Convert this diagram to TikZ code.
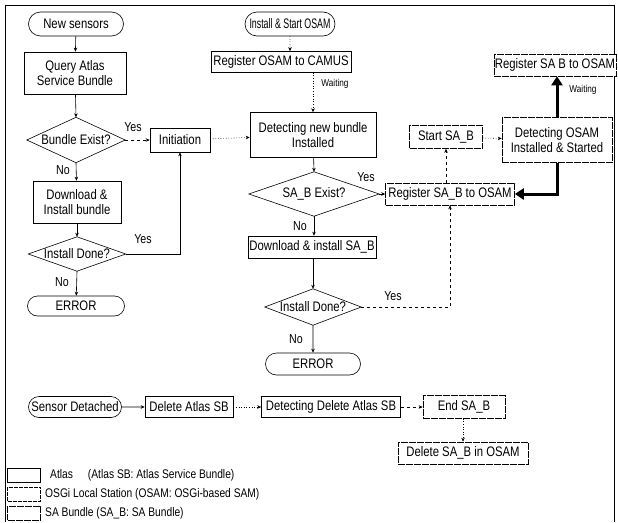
\documentclass[tikz,border=0pt]{standalone}
\usepackage{fontspec}
\setmainfont{Liberation Sans}[FakeStretch=0.82]
\newfontfamily\narrowfont{Liberation Sans}[FakeStretch=0.64]
\usetikzlibrary{shapes.geometric,shapes.misc,arrows.meta}
\tikzset{
  base/.style={draw=black, line width=0.6pt, fill=white, inner sep=1pt, align=center, font=\fontsize{13.8}{15.5}\selectfont},
  boxa/.style={base, rectangle},
  boxo/.style={base, rectangle},
  boxs/.style={base, rectangle, dash pattern=on 7pt off 1pt},
  stad/.style={base, rounded rectangle},
  diabox/.style={rectangle, inner sep=0pt, align=center, font=\fontsize{13.8}{15.5}\selectfont},
  diaedge/.style={draw=black, line width=0.6pt},
  lbl/.style={font=\fontsize{13}{15}\selectfont, inner sep=0pt},
  wlbl/.style={font=\fontsize{10}{11}\selectfont, inner sep=0pt},
  conn/.style={line width=0.6pt, -{Stealth[length=4pt,width=3.5pt]}},
  dotconn/.style={conn, dotted},
  dashconn/.style={conn, dashed},
  thickconn/.style={line width=3pt, -{Triangle[length=9pt,width=11pt]}},
  legbox/.style={draw=black, line width=0.5pt, minimum width=33pt, minimum height=14pt, inner sep=0pt},
  legtxt/.style={anchor=west, inner sep=0pt, font=\fontsize{12.5}{14}\selectfont}
}
\newcommand{\diamondpath}[1]{\draw[diaedge] (#1.north) -- (#1.east) -- (#1.south) -- (#1.west) -- cycle;}
\begin{document}
\begin{tikzpicture}[x=1pt,y=-1pt]
\useasboundingbox (0,0) rectangle (618,522);
\draw[line width=0.8pt] (5,522) -- (5,5) -- (614,5) -- (614,522);

% Atlas column
\node[stad, minimum width=97pt, minimum height=24pt] (ns) at (76,24) {New sensors};
\node[boxa, minimum width=102pt, minimum height=42pt] (qa) at (75,73) {Query Atlas\\Service Bundle};
\node[diabox, minimum width=98pt, minimum height=45pt] (be) at (76,140) {Bundle Exist?};
\diamondpath{be}
\node[boxa, minimum width=60pt, minimum height=24pt] (ini) at (180,140) {Initiation};
\node[boxa, minimum width=88pt, minimum height=42pt] (dl) at (77,202) {Download \&\\Install bundle};
\node[diabox, minimum width=97pt, minimum height=34pt] (id1) at (77,254) {Install Done?};
\diamondpath{id1}
\node[stad, minimum width=99pt, minimum height=20pt] (err1) at (76,306) {ERROR};
\node[lbl] (y1) at (133,127) {Yes};
\node[lbl] (n1) at (63,170) {No};
\node[lbl] (y2) at (143,239) {Yes};
\node[lbl] (n2) at (62,282) {No};

% OSGi column
\node[stad, minimum width=92pt, minimum height=24pt, font=\narrowfont\fontsize{13.8}{15}\selectfont] (iso) at (290,24) {Install \& Start OSAM};
\node[boxo, minimum width=140pt, minimum height=21pt] (ro) at (281,62) {Register OSAM to CAMUS};
\node[wlbl] (w1) at (335,84) {Waiting};
\node[boxo, minimum width=126pt, minimum height=45pt] (dn) at (313,135) {Detecting new bundle\\Installed};
\node[diabox, minimum width=130pt, minimum height=44pt] (sbe) at (314,194) {SA\_B Exist?};
\diamondpath{sbe}
\node[boxs, minimum width=129pt, minimum height=22pt] (rsb) at (450,194) {Register SA\_B to OSAM};
\node[boxa, minimum width=128pt, minimum height=22pt] (dsb) at (312,247) {Download \& install SA\_B};
\node[diabox, minimum width=96pt, minimum height=36pt] (id2) at (313,307) {Install Done?};
\diamondpath{id2}
\node[stad, minimum width=97pt, minimum height=22pt] (err2) at (313,364) {ERROR};
\node[lbl] (y3) at (366,177) {Yes};
\node[lbl] (n3) at (300,226) {No};
\node[lbl] (y4) at (393,296) {Yes};
\node[lbl] (n4) at (296,339) {No};

% SA bundle column
\node[boxs, minimum width=116pt, minimum height=22pt] (rsbo) at (555,65) {Register SA B to OSAM};
\node[wlbl] (w2) at (583,90) {Waiting};
\node[boxs, minimum width=73pt, minimum height=23pt] (ssb) at (446,137) {Start SA\_B};
\node[boxs, minimum width=110pt, minimum height=45pt] (dos) at (557,140) {Detecting OSAM\\Installed \& Started};

% bottom row
\node[stad, minimum width=95pt, minimum height=21pt] (sd) at (75,407) {Sensor Detached};
\node[boxa, minimum width=88pt, minimum height=21pt] (das) at (189,407) {Delete Atlas SB};
\node[boxo, minimum width=139pt, minimum height=21pt] (dda) at (331,407) {Detecting Delete Atlas SB};
\node[boxs, minimum width=82pt, minimum height=23pt] (esb) at (464,407) {End SA\_B};
\node[boxs, minimum width=130pt, minimum height=22pt] (dso) at (463,453) {Delete SA\_B in OSAM};

% connectors
\draw[conn] (ns) -- (qa);
\draw[conn] (qa) -- (be.north);
\draw[dashconn] (be.east) -- (ini);
\draw[conn] (be.south) -- (dl);
\draw[conn] (dl) -- (id1.north);
\draw[conn] (id1.east) -| (ini.south);
\draw[conn] (id1.south) -- (err1);
\draw[dotconn] (ini) -- (dn);
\draw[dotconn] (iso) -- (iso |- ro.north);
\draw[dotconn] (ro.south -| dn.north) -- (dn.north);
\draw[conn] (dn) -- (sbe.north);
\draw[conn] (sbe.east) -- (rsb);
\draw[conn] (sbe.south) -- (sbe.south |- dsb.north);
\draw[conn] (dsb.south -| id2.north) -- (id2.north);
\draw[dashconn] (id2.east) -| (rsb.south);
\draw[conn] (id2.south) -- (err2);
\draw[dashconn] (ssb.south |- rsb.north) -- (ssb.south);
\draw[dotconn] (ssb) -- (dos);
\draw[thickconn] (dos.south) |- (rsb.east);
\draw[thickconn] (dos.north) -- (dos.north |- rsbo.south);
\draw[conn] (sd) -- (das);
\draw[dotconn] (das) -- (dda);
\draw[dashconn] (dda) -- (esb);
\draw[dotconn] (esb.south -| dso.north) -- (dso.north);

% legend
\node[legbox] (l1) at (24,475) {};
\node[legbox, dash pattern=on 4pt off 1pt] (l2) at (24,494) {};
\node[legbox, dash pattern=on 7pt off 1pt] (l3) at (24,513) {};
\node[legtxt] (t1) at (50,475) {Atlas\hspace{1.2em}(Atlas SB: Atlas Service Bundle)};
\node[legtxt] (t2) at (45,494) {OSGi Local Station (OSAM: OSGi-based SAM)};
\node[legtxt] (t3) at (45,513) {SA Bundle (SA\_B: SA Bundle)};
\end{tikzpicture}
\end{document}
